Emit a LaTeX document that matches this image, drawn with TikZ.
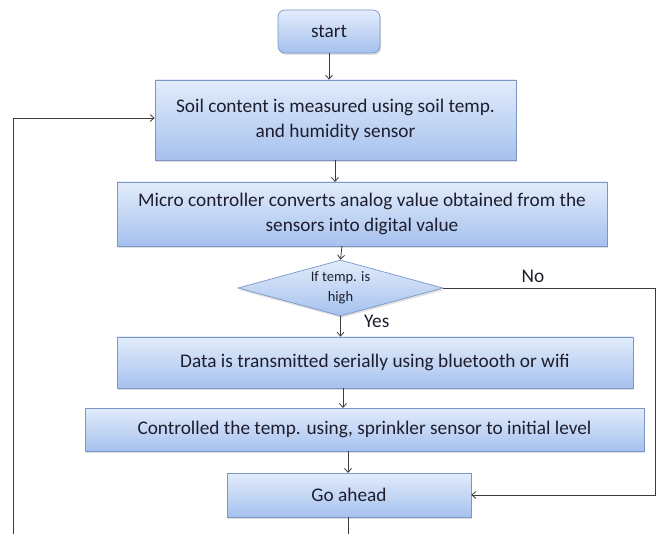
\documentclass[tikz,border=0pt]{standalone}
\usepackage{fontspec}
\setmainfont{Carlito}
\usetikzlibrary{shapes.geometric,arrows.meta,shadows}
\definecolor{boxtop}{HTML}{E2ECFB}
\definecolor{boxbot}{HTML}{A6C1EE}
\definecolor{boxline}{HTML}{7A97C8}
\definecolor{txt}{HTML}{1E1E2E}
\definecolor{conn}{HTML}{3C3C3C}
\tikzset{
  box/.style={draw=boxline, line width=0.7pt, top color=boxtop, bottom color=boxbot,
    inner sep=0pt, align=center, text=txt, font=\fontsize{19.3}{25}\selectfont,
    drop shadow={opacity=0.25, shadow xshift=1pt, shadow yshift=-2pt}},
  dec/.style={box, shape=diamond, shape aspect=3.6, font=\fontsize{14.5}{19.5}\selectfont, inner sep=0pt},
  conn/.style={draw=conn, line width=0.8pt},
  arr/.style={conn, -{Straight Barb[length=4pt,width=7pt]}},
  lbl/.style={text=txt, font=\fontsize{19.3}{22}\selectfont, inner sep=0pt}
}
\begin{document}
\begin{tikzpicture}[x=1pt,y=-1pt]
\useasboundingbox (0,0) rectangle (661,534);
\node[box, rounded corners=7pt, minimum width=102pt, minimum height=43pt] (start) at (329,31.5) {start};
\node[box, minimum width=361pt, minimum height=80pt] (b1) at (335.5,120) {Soil content is measured using soil temp.\\ and humidity sensor};
\node[box, minimum width=490pt, minimum height=64pt] (b2) at (362,214) {Micro controller converts analog value obtained from the\\ sensors into digital value};
\node[dec, minimum width=205pt, minimum height=56pt] (d) at (340.5,288) {If temp. is\\ high};
\node[box, minimum width=516pt, minimum height=51pt] (b3) at (375,362.5) {Data is transmitted serially using bluetooth or wifi};
\node[box, minimum width=559pt, minimum height=43pt] (b4) at (364.5,429.5) {Controlled the temp. using, sprinkler sensor to initial level};
\node[box, minimum width=244pt, minimum height=44pt] (b5) at (349,495) {Go ahead};
\coordinate (bot) at (348,534);
\coordinate (ll) at (13,534);
\coordinate (rr) at (655,288);
\draw[arr] (start.south) -- (start.south |- b1.north);
\draw[arr] (335,160) -- (335,182);
\draw[arr] (342,246) -- (d.north);
\draw[arr] (d.south) -- (d.south |- b3.north);
\draw[arr] (343,388) -- (343,408);
\draw[arr] (348,451) -- (348,473);
\draw[conn] (348,517) -- (bot);
\draw[arr] (ll) -- (13,118) -- (b1.west |- 0,118);
\draw[arr] (d.east) -- (rr) -- (655,495) -- (b5.east);
\node[lbl, anchor=west] (yes) at (364,321) {Yes};
\node[lbl] (no) at (533,276) {No};
\end{tikzpicture}
\end{document}
